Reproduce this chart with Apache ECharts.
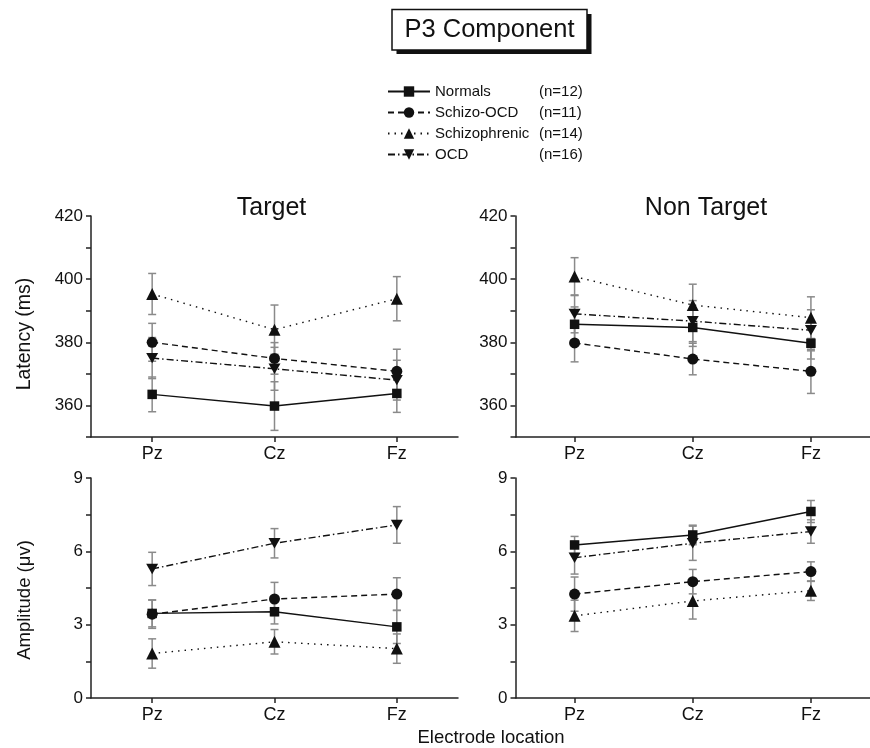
<!DOCTYPE html>
<html><head><meta charset="utf-8">
<script src="https://cdn.jsdelivr.net/npm/echarts@6/dist/echarts.min.js"></script>
<style>html,body{margin:0;padding:0;background:#fff}#c{width:870px;height:748px}</style>
</head><body><div id="c"></div>
<script>
const electrodes = ['Pz', 'Cz', 'Fz'];
const groups = ['Normals', 'Schizo-OCD', 'Schizophrenic', 'OCD'];
const groupN = ['(n=12)', '(n=11)', '(n=14)', '(n=16)'];
const panelTitles = ['Target', 'Non Target'];
const latencyTicks = [360, 380, 400, 420];
const amplitudeTicks = [0, 3, 6, 9];

// rows: Normals, Schizo-OCD, Schizophrenic, OCD ; cols: Pz, Cz, Fz
const latTargetMean = [
  [363.5, 359.8, 363.8],
  [380.0, 374.9, 370.8],
  [395.3, 384.0, 393.8],
  [375.0, 371.6, 368.0]
];
const latTargetErr = [
  [5.5, 7.7, 6.0],
  [6.0, 5.0, 7.0],
  [6.5, 7.8, 7.0],
  [6.5, 6.8, 6.3]
];
const latNonTargetMean = [
  [385.7, 384.7, 379.7],
  [379.8, 374.7, 370.8],
  [400.8, 391.8, 387.8],
  [389.0, 386.7, 383.8]
];
const latNonTargetErr = [
  [5.5, 6.0, 5.0],
  [6.0, 5.0, 7.0],
  [6.0, 6.6, 6.6],
  [6.0, 6.5, 6.5]
];
const ampTargetMean = [
  [3.46, 3.53, 2.91],
  [3.43, 4.05, 4.25],
  [1.82, 2.30, 2.02],
  [5.28, 6.33, 7.08]
];
const ampTargetErr = [
  [0.55, 0.50, 0.68],
  [0.58, 0.68, 0.67],
  [0.60, 0.50, 0.60],
  [0.68, 0.60, 0.75]
];
const ampNonTargetMean = [
  [6.26, 6.67, 7.63],
  [4.25, 4.76, 5.17],
  [3.36, 3.97, 4.39],
  [5.74, 6.33, 6.81]
];
const ampNonTargetErr = [
  [0.35, 0.40, 0.45],
  [0.70, 0.50, 0.40],
  [0.64, 0.74, 0.40],
  [0.67, 0.70, 0.48]
];

const FONT = '"Liberation Sans", Arial, Helvetica, sans-serif';
const INK = '#111';
const symbols = ['rect', 'circle', 'triangle', 'path://M0,0 L10,0 L5,8.66 Z'];
const symbolSizes = [9.5, 11, 12, 12];
const dashes = ['solid', [6, 4], [1.5, 5], [7, 3, 1.5, 3]];

const panels = [
  { mean: latTargetMean, err: latTargetErr, kind: 'lat' },
  { mean: latNonTargetMean, err: latNonTargetErr, kind: 'lat' },
  { mean: ampTargetMean, err: ampTargetErr, kind: 'amp' },
  { mean: ampNonTargetMean, err: ampNonTargetErr, kind: 'amp' }
];

const grids = [
  { left: 91, top: 216, width: 367, height: 221 },
  { left: 515.5, top: 216, width: 367, height: 221 },
  { left: 91, top: 478, width: 367, height: 220 },
  { left: 515.5, top: 478, width: 367, height: 220 }
];

const axisLineStyle = { color: '#222', width: 1.5 };

const xAxes = grids.map((g, i) => ({
  type: 'category', gridIndex: i, data: electrodes, boundaryGap: true,
  axisLine: { show: true, lineStyle: axisLineStyle },
  axisTick: { show: true, alignWithLabel: true, length: 5, lineStyle: axisLineStyle },
  axisLabel: { fontFamily: FONT, fontSize: 18, color: INK, margin: 8 },
  splitLine: { show: false }
}));

const yAxes = panels.map((p, i) => {
  const isLat = p.kind === 'lat';
  return {
    type: 'value', gridIndex: i,
    min: isLat ? 350 : 0, max: isLat ? 420 : 9, interval: isLat ? 10 : 1.5,
    axisLine: { show: true, lineStyle: axisLineStyle },
    axisTick: { show: true, length: 5, lineStyle: axisLineStyle },
    axisLabel: {
      fontFamily: FONT, fontSize: 17, color: INK, margin: 8,
      formatter: v => {
        const ticks = isLat ? latencyTicks : amplitudeTicks;
        return ticks.some(t => Math.abs(t - v) < 1e-6) ? String(Math.round(v)) : '';
      }
    },
    splitLine: { show: false }
  };
});

function errRender(params, api) {
  const x = api.value(0), m = api.value(1), e = api.value(2);
  const top = api.coord([x, m + e]);
  const bot = api.coord([x, m - e]);
  const hw = 4;
  const st = { stroke: '#8a8a8a', lineWidth: 1.5 };
  return {
    type: 'group',
    children: [
      { type: 'line', shape: { x1: top[0], y1: top[1], x2: bot[0], y2: bot[1] }, style: st },
      { type: 'line', shape: { x1: top[0] - hw, y1: top[1], x2: top[0] + hw, y2: top[1] }, style: st },
      { type: 'line', shape: { x1: bot[0] - hw, y1: bot[1], x2: bot[0] + hw, y2: bot[1] }, style: st }
    ]
  };
}

const series = [];
panels.forEach((p, pi) => {
  groups.forEach((name, gi) => {
    series.push({
      type: 'custom', name: name + ' SE', xAxisIndex: pi, yAxisIndex: pi,
      data: p.mean[gi].map((m, k) => [k, m, p.err[gi][k]]),
      encode: { x: 0, y: 1 },
      renderItem: errRender, z: 2, silent: true
    });
  });
  groups.forEach((name, gi) => {
    series.push({
      type: 'line', name: name, xAxisIndex: pi, yAxisIndex: pi,
      data: p.mean[gi],
      symbol: symbols[gi], symbolSize: symbolSizes[gi], symbolKeepAspect: true,
      showAllSymbol: true,
      lineStyle: { color: INK, width: 1.4, type: dashes[gi] },
      itemStyle: { color: INK },
      z: 3
    });
  });
});

const option = {
  animation: false,
  backgroundColor: '#fff',
  grid: grids,
  xAxis: xAxes,
  yAxis: yAxes,
  legend: {
    data: groups, orient: 'vertical', left: 387, top: 84, padding: 0,
    itemWidth: 42, itemHeight: 13, itemGap: 6, selectedMode: false,
    formatter: name => '{a|' + name + '}{b|' + groupN[groups.indexOf(name)] + '}',
    textStyle: {
      fontFamily: FONT, fontSize: 15, color: INK,
      rich: {
        a: { width: 104, fontFamily: FONT, fontSize: 15, color: INK, lineHeight: 14 },
        b: { fontFamily: FONT, fontSize: 15, color: INK, lineHeight: 14 }
      }
    }
  },
  graphic: [
    { type: 'rect', z: 10, shape: { x: 396.5, y: 14, width: 195, height: 40 }, style: { fill: INK } },
    { type: 'rect', z: 11, shape: { x: 392, y: 9.5, width: 195, height: 40.5 }, style: { fill: '#fff', stroke: INK, lineWidth: 1.5 } },
    { type: 'text', z: 12, x: 489.5, y: 30, style: { text: 'P3 Component', font: '25.5px ' + FONT, fill: INK, align: 'center', verticalAlign: 'middle' } },
    { type: 'text', x: 271.5, y: 208, style: { text: panelTitles[0], font: '25px ' + FONT, fill: INK, align: 'center', verticalAlign: 'middle' } },
    { type: 'text', x: 706, y: 208, style: { text: panelTitles[1], font: '25px ' + FONT, fill: INK, align: 'center', verticalAlign: 'middle' } },
    { type: 'text', x: 25, y: 334, rotation: Math.PI / 2, style: { text: 'Latency (ms)', font: '19.5px ' + FONT, fill: INK, align: 'center', verticalAlign: 'middle' } },
    { type: 'text', x: 25, y: 600, rotation: Math.PI / 2, style: { text: 'Amplitude (μv)', font: '18.5px ' + FONT, fill: INK, align: 'center', verticalAlign: 'middle' } },
    { type: 'text', x: 491, y: 738, style: { text: 'Electrode location', font: '18.5px ' + FONT, fill: INK, align: 'center', verticalAlign: 'middle' } }
  ],
  series: series
};

const chart = echarts.init(document.getElementById('c'), null, { renderer: 'canvas' });
chart.setOption(option);
</script>
</body></html>
